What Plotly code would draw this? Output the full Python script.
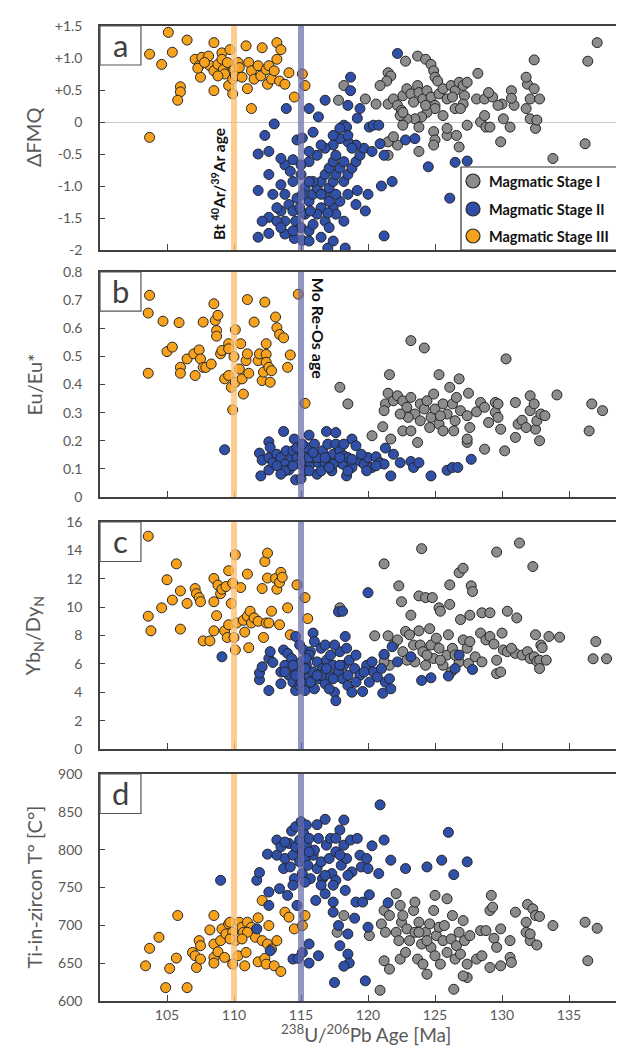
import plotly.graph_objects as go
from plotly.subplots import make_subplots

# ---------------- DATA ----------------
# Panel a : ΔFMQ
a_s1_age = [137.1,136.4,132.4,128.2,122.8,123.7,124.3,124.7,124.9,125.0,125.2,121.5,121.7,121.4,120.9,118.2,117.8,119.8,120.6,
            121.5,121.9,122.2,122.5,122.6,122.9,123.2,123.4,123.7,123.8,124.1,124.4,124.7,125.0,125.3,125.6,125.9,126.2,126.5,126.8,
            127.1,127.4,127.2,127.1,126.5,125.6,125.0,124.4,124.0,123.5,122.9,122.4,122.6,123.8,124.9,125.0,125.9,126.6,127.4,128.4,
            128.8,129.1,128.1,128.7,129.3,130.0,130.7,130.9,131.8,132.1,132.5,132.6,132.1,131.9,132.4,132.8,131.8,130.7,129.0,129.9,
            126.8,123.8,122.2,121.5,121.9,121.5,124.9,125.9,133.8,136.2,130.6,129.7,128.7,130.1,122.6,124.3,126.3,126.9]
a_s1_val = [1.24,0.95,0.97,0.76,0.95,1.03,0.98,0.90,0.80,0.70,0.64,0.77,0.72,0.64,0.57,0.57,0.34,0.36,0.28,
            0.28,0.36,0.26,0.18,0.41,0.52,0.44,0.31,0.57,0.46,0.36,0.49,0.39,0.26,0.44,0.52,0.36,0.57,0.49,0.62,
            0.57,0.62,0.41,0.28,0.21,0.10,0.21,0.15,0.08,0.05,0.05,0.10,-0.05,-0.08,-0.15,-0.28,-0.21,-0.21,-0.05,0.00,
            -0.08,-0.08,0.36,0.36,0.39,0.28,0.49,0.26,0.21,0.05,-0.10,0.03,0.36,0.59,0.52,0.36,0.70,0.37,0.46,-0.31,
            -0.39,-0.46,-0.36,-0.31,-0.23,-0.52,-0.36,-0.10,-0.57,-0.34,-0.08,0.26,0.10,0.05,0.15,0.26,0.39,0.21]

a_s2_age = [122.2,118.7,118.7,116.8,118.5,119.4,113.9,115.6,116.3,119.2,113.0,118.2,118.4,120.1,120.4,120.8,112.3,115.9,114.7,115.1,
            122.8,111.8,112.6,113.8,114.4,113.5,112.6,111.8,113.5,114.2,124.5,126.5,127.4,126.1,121.8,121.0,120.0,119.8,119.2,119.1,
            121.2,118.3,117.0,115.1,114.5,111.8,112.6,112.6,113.5,113.8,
            114.6,115.3,115.0,115.6,115.9,116.5,116.8,117.1,117.4,117.6,117.9,118.2,115.6,115.9,116.2,116.5,116.8,117.1,117.4,117.6,
            116.2,116.8,117.4,117.9,118.5,118.2,118.5,118.8,119.1,119.4,119.7,119.1,118.5,117.9,117.4,116.8,116.2,115.6,115.0,115.3,
            114.7,114.1,114.4,113.2,112.9,113.8,114.4,115.0,115.6,116.5,117.4,117.9,118.5,118.8,117.6,118.2,117.1,116.5,115.6,115.1,
            114.9,120.3,121.2,120.9,123.5,117.4,113.8,113.2,112.1,115.9,117.1,117.6,116.5,115.6,115.1,115.7,117.0,113.5,114.4]
a_s2_val = [1.07,0.70,0.49,0.34,0.26,0.21,0.21,0.21,0.08,0.06,-0.03,-0.05,-0.08,-0.08,-0.05,-0.05,-0.21,-0.16,-0.28,-0.25,
            -0.28,-0.50,-0.46,-0.67,-0.59,-0.57,-0.82,-1.07,-0.98,-0.77,-0.70,-0.63,-0.61,-1.19,-0.93,-1.00,-1.13,-1.39,-1.07,-1.29,
            -1.78,-1.97,-1.97,-1.85,-1.82,-1.80,-1.74,-1.49,-1.39,-1.55,
            -1.55,-1.44,-1.65,-1.70,-1.60,-1.34,-1.13,-1.03,-0.93,-0.82,-0.72,-0.62,-1.24,-1.13,-1.03,-0.93,-0.82,-0.72,-0.62,-0.52,
            -1.44,-1.55,-1.34,-1.24,-1.13,-0.93,-0.82,-0.72,-0.62,-0.52,-0.41,-0.36,-0.31,-0.26,-0.36,-0.41,-0.52,-0.62,-0.82,-1.03,
            -1.19,-1.29,-1.39,-1.34,-1.13,-1.13,-0.93,-0.67,-0.46,-0.36,-0.21,-0.10,-0.21,-0.41,-1.44,-1.55,-1.65,-1.80,-1.86,-1.42,
            -1.34,-0.46,-0.52,-0.34,-0.26,-1.86,-1.75,-1.55,-1.55,-0.93,-1.24,-1.13,-1.13,-0.93,-1.13,-1.39,-1.42,-1.65,-1.70]

a_s3_age = [103.7,104.6,105.1,105.4,106.0,106.0,105.8,106.5,107.1,107.4,107.5,107.6,108.1,108.2,108.5,108.5,108.5,108.8,109.1,109.1,
            109.2,109.3,109.6,109.7,109.9,109.9,110.0,110.1,110.3,110.4,110.6,110.9,111.0,111.1,111.3,111.5,111.8,112.0,112.1,112.4,
            112.5,112.6,112.8,113.0,113.2,113.2,113.5,113.4,113.8,114.1,114.5,115.1,115.3,111.3,103.7,107.3,107.8,108.8,109.5,109.7]
a_s3_val = [1.06,0.90,1.40,1.09,0.55,0.47,0.34,1.28,0.98,0.88,0.70,1.01,1.03,0.88,1.24,0.80,0.49,0.90,1.08,0.98,
            0.82,0.75,0.57,0.90,0.67,0.44,0.82,0.72,0.93,0.85,0.70,1.19,0.52,0.93,0.80,0.67,0.88,0.72,1.16,0.82,
            0.59,0.88,0.67,0.80,1.24,0.98,1.13,0.64,0.59,0.77,0.39,0.75,0.57,0.21,-0.24,0.84,0.93,0.72,0.93,1.13]

# Panel b : Eu/Eu*
b_s1_age = [123.2,124.2,130.3,121.6,125.3,126.8,134.1,117.9,118.5,121.5,121.3,121.2,121.9,122.2,122.6,122.9,123.2,123.5,123.9,124.2,
            124.4,124.7,124.9,125.0,125.3,125.6,125.9,126.1,126.3,126.5,126.6,126.9,127.4,127.5,127.6,127.4,127.4,128.1,128.4,128.7,
            129.0,129.5,129.5,129.7,129.9,130.2,131.0,131.0,131.2,131.5,132.1,132.1,132.4,132.5,132.8,132.6,132.9,133.2,136.5,136.7,
            137.5,120.3,121.1,121.7,122.6,123.7,124.6,125.6,125.4,126.4,123.9,123.0,122.4,128.7,129.7,131.8,123.2]
b_s1_val = [0.556,0.530,0.491,0.435,0.435,0.420,0.363,0.390,0.331,0.369,0.331,0.307,0.342,0.360,0.342,0.319,0.354,0.295,0.331,0.313,
            0.342,0.283,0.366,0.313,0.259,0.331,0.295,0.390,0.331,0.271,0.354,0.307,0.289,0.369,0.247,0.194,0.206,0.303,0.336,0.170,
            0.265,0.336,0.301,0.283,0.241,0.164,0.212,0.336,0.259,0.273,0.360,0.307,0.331,0.241,0.200,0.271,0.295,0.289,0.235,0.331,
            0.307,0.218,0.250,0.206,0.235,0.194,0.247,0.235,0.289,0.235,0.271,0.283,0.295,0.319,0.331,0.247,0.235]

b_s2_age = [109.3,111.9,112.0,112.1,112.6,112.6,112.6,112.7,112.9,113.2,113.5,113.7,113.8,113.9,114.1,114.3,114.4,114.5,114.6,114.7,
            114.9,115.0,115.1,115.3,115.4,115.6,115.7,115.9,116.0,116.2,116.3,116.5,116.6,116.8,116.9,117.0,117.1,117.3,117.4,117.6,
            117.6,117.8,117.9,118.1,118.2,118.4,118.5,118.8,118.8,119.1,119.4,119.7,120.0,120.3,120.6,120.9,121.2,121.3,121.7,121.9,
            122.4,123.2,123.4,123.8,124.7,125.9,126.3,126.7,127.7,
            115.3,115.6,116.2,116.8,117.4,117.9,113.8,113.2,114.7,115.6,116.5,117.1,118.8,119.5,119.9,120.6,115.1,115.9,118.2,118.5,
            114.4,113.5]
b_s2_val = [0.168,0.156,0.075,0.131,0.196,0.140,0.096,0.176,0.122,0.152,0.140,0.233,0.117,0.164,0.096,0.140,0.164,0.206,0.061,0.140,
            0.117,0.065,0.152,0.128,0.176,0.220,0.117,0.140,0.188,0.081,0.122,0.152,0.164,0.117,0.233,0.188,0.140,0.093,0.152,0.229,
            0.188,0.128,0.164,0.117,0.146,0.075,0.140,0.206,0.105,0.182,0.128,0.117,0.140,0.105,0.143,0.122,0.117,0.174,0.075,0.152,
            0.122,0.126,0.105,0.122,0.075,0.095,0.105,0.105,0.134,
            0.093,0.140,0.140,0.140,0.117,0.140,0.093,0.111,0.176,0.093,0.093,0.105,0.134,0.152,0.093,0.111,0.188,0.158,0.188,0.093,
            0.111,0.081]

b_s3_age = [103.7,103.6,103.6,104.7,105.0,105.4,105.9,106.0,106.0,106.5,107.0,107.1,107.4,107.5,107.7,107.7,107.9,108.3,108.5,108.6,
            108.7,108.7,108.8,109.0,109.1,109.3,109.6,109.6,109.6,109.8,109.9,110.0,110.1,110.1,110.4,110.5,110.6,110.7,110.9,111.0,
            111.0,111.1,111.5,111.8,111.9,112.1,112.2,112.3,112.4,112.4,112.4,112.6,112.7,112.8,113.1,113.2,113.4,113.7,114.0,114.2,
            114.8,115.3]
b_s3_val = [0.717,0.654,0.440,0.625,0.517,0.533,0.620,0.461,0.440,0.491,0.509,0.432,0.523,0.491,0.622,0.461,0.461,0.473,0.687,0.628,
            0.592,0.572,0.646,0.509,0.521,0.420,0.545,0.432,0.527,0.390,0.310,0.499,0.595,0.408,0.455,0.545,0.420,0.366,0.485,0.509,
            0.702,0.440,0.622,0.485,0.509,0.414,0.444,0.693,0.545,0.507,0.479,0.461,0.408,0.449,0.640,0.602,0.578,0.566,0.461,0.505,
            0.721,0.333]

# Panel c : YbN/DyN
c_s1_age = [124.0,129.6,131.3,132.3,121.2,122.3,122.5,123.8,124.3,124.8,125.3,125.4,126.1,126.1,126.8,127.1,127.7,127.8,126.9,127.6,
            128.5,129.1,130.4,131.1,123.2,117.9,120.5,121.5,121.2,121.6,121.9,122.2,122.6,122.8,123.1,123.4,123.5,123.8,123.9,124.1,
            124.3,124.6,124.7,124.9,125.1,125.3,125.6,125.9,126.0,126.2,126.3,126.8,127.1,127.4,127.5,127.6,128.4,128.8,129.1,129.4,
            129.6,129.6,129.9,130.0,130.1,130.4,131.0,131.5,131.9,132.1,132.4,132.5,132.6,132.8,132.9,133.0,133.3,132.8,133.5,134.3,
            136.8,137.0,137.8,120.0,121.2,122.9,124.4,125.4,128.0,128.5,130.7,126.5]
c_s1_val = [14.12,13.88,14.52,12.86,13.05,11.50,10.38,10.79,10.67,10.67,9.95,9.71,11.57,10.19,12.43,12.74,11.50,11.10,9.12,9.43,
            9.60,9.60,9.71,9.24,9.43,9.95,7.98,7.98,6.62,5.90,7.33,7.69,6.86,8.29,8.05,7.33,6.14,8.33,7.33,6.86,
            5.90,8.48,7.33,6.38,7.81,7.10,5.90,6.62,8.05,5.43,7.10,6.14,7.69,7.10,6.02,7.57,8.17,7.69,7.93,7.40,
            6.26,5.31,5.43,8.17,6.98,6.86,6.74,6.62,6.86,6.38,6.50,8.05,6.19,6.26,7.33,7.14,6.26,5.67,7.93,7.88,
            6.36,7.57,6.36,5.90,6.14,6.26,6.62,6.26,6.50,6.14,7.10,6.62]

c_s2_age = [109.1,111.9,111.9,112.1,112.6,112.6,112.7,112.9,113.5,113.5,113.7,113.8,114.0,114.1,114.3,114.4,114.6,114.6,114.7,114.9,
            114.9,115.0,115.1,115.2,115.3,115.4,115.6,115.7,115.9,115.9,116.0,116.2,116.3,116.5,116.6,116.8,116.9,117.1,117.2,117.4,
            117.5,117.6,117.8,117.8,117.9,118.1,118.2,118.3,118.4,118.5,118.6,118.8,119.0,119.1,119.4,119.6,119.9,120.0,120.1,120.4,
            120.7,121.1,121.2,121.3,121.6,121.7,121.8,122.2,123.2,124.0,124.7,126.0,126.5,126.8,127.8,118.1,
            113.8,114.4,115.3,115.7,116.5,116.9,117.4,117.9,115.6,116.2,115.0,117.1,118.5,119.1,119.7,121.0,120.3,114.6,115.4,116.0,
            116.8,117.5]
c_s2_val = [6.50,4.88,5.36,5.79,4.12,6.38,6.86,6.10,5.43,4.60,6.98,5.90,6.74,5.19,6.38,4.71,4.12,7.93,5.67,7.33,
            4.48,6.14,5.19,6.98,4.12,5.90,5.07,6.86,8.17,5.43,4.24,6.14,4.95,7.10,5.67,4.60,6.26,5.19,6.62,5.90,
            4.00,3.40,9.67,5.43,6.86,4.95,5.90,7.93,7.10,4.48,6.26,4.00,5.67,6.62,5.19,4.05,5.90,11.02,4.71,5.43,
            5.07,3.93,6.67,4.71,4.95,4.24,7.21,6.14,6.50,4.83,5.02,5.14,5.67,6.62,5.60,9.71,
            5.43,5.90,5.67,4.71,5.19,5.67,4.95,5.90,6.62,5.19,4.71,4.24,5.19,4.71,5.43,5.67,6.14,5.19,6.38,7.57,
            7.33,7.33]

c_s3_age = [103.6,103.6,103.8,104.6,105.0,105.4,105.7,106.0,106.0,106.5,107.1,107.2,107.4,107.5,107.7,108.2,108.5,108.5,108.5,108.7,
            108.8,109.0,109.1,109.3,109.4,109.5,109.6,109.6,109.8,109.9,110.0,110.1,110.1,110.2,110.5,110.7,110.8,111.0,111.0,111.1,
            111.2,111.3,111.5,111.8,112.1,112.2,112.3,112.4,112.5,112.5,112.6,112.8,113.1,113.2,113.4,113.5,114.0,114.2,114.7,115.3,
            115.5,113.4,113.6]
c_s3_val = [15.0,9.36,8.33,9.95,11.93,10.5,13.05,11.14,8.45,10.26,11.31,10.95,10.67,10.38,7.62,7.62,12.02,10.38,8.33,9.40,
            11.55,10.95,11.26,8.33,11.45,7.86,8.76,12.57,10.26,11.69,7.86,13.69,6.98,8.88,11.38,9.07,8.24,9.36,12.33,7.14,
            9.71,8.88,9.24,9.00,11.31,7.86,13.21,8.88,13.81,12.05,8.88,9.71,12.02,11.26,8.76,12.45,9.95,8.05,11.57,10.67,
            9.19,11.74,12.1]

# Panel d : Ti-in-zircon T
d_s1_age = [120.9,121.6,121.2,121.0,121.2,121.6,122.1,122.1,122.3,122.4,122.4,122.5,122.6,122.8,122.9,123.1,123.4,123.5,123.5,123.7,
            123.8,124.0,124.1,124.3,124.4,124.6,124.7,124.9,125.0,125.0,125.1,125.3,125.4,125.6,125.7,125.9,126.2,126.3,126.4,126.5,
            126.6,126.8,126.9,127.1,127.2,127.4,127.4,127.6,128.1,128.4,128.5,128.8,129.1,129.2,129.3,129.4,129.6,129.1,129.9,129.9,
            130.6,130.6,130.7,131.0,131.8,131.8,131.9,132.1,132.1,132.3,132.5,132.6,132.8,133.8,136.2,136.4,137.1,118.2,117.7,120.1,
            121.3,124.4,125.9,123.8,127.1]
d_s1_val = [614.2,642.1,653.2,701.9,719.6,713.0,741.8,690.8,679.8,726.3,655.4,704.1,713.0,664.2,695.3,679.8,719.6,730.7,690.8,655.4,
            704.1,675.3,648.7,690.8,635.4,701.9,670.9,719.6,739.6,659.8,686.4,697.5,648.7,679.8,699.7,735.1,682.0,713.0,615.5,655.4,
            673.1,690.8,662.0,706.3,679.8,648.7,631.0,686.4,655.4,693.0,659.8,693.0,719.6,739.6,724.0,682.9,670.9,644.3,646.5,695.3,
            679.8,657.6,651.0,717.4,704.1,690.8,727.6,679.8,688.6,721.8,713.0,674.0,711.7,699.7,704.1,653.2,696.1,713.0,690.8,686.4,
            690.8,679.8,664.2,690.8,633.2]

d_s2_age = [109.0,111.7,111.7,111.9,112.5,112.6,112.6,112.7,113.2,113.2,113.4,113.5,113.7,113.8,114.0,114.1,114.2,114.3,114.4,114.4,
            114.5,114.6,114.6,114.7,114.8,114.9,114.9,115.0,115.1,115.1,115.2,115.3,115.4,115.4,115.5,115.6,115.6,115.6,115.7,115.9,
            116.0,116.1,116.2,116.3,116.3,116.5,116.6,116.8,116.8,116.9,117.1,117.2,117.3,117.4,117.4,117.5,117.6,117.6,117.8,117.9,
            117.9,118.0,118.2,118.2,118.3,118.4,118.5,118.5,118.6,118.7,118.8,119.0,119.1,119.2,119.4,119.5,119.6,119.8,119.9,120.0,
            120.0,120.1,120.3,120.8,120.9,121.2,121.5,121.7,122.8,124.4,125.5,126.0,126.4,127.4,
            113.8,115.6,116.8,117.6,118.5,114.4,116.5,117.9,115.3,116.2,117.4,115.1,118.2]
d_s2_val = [759.5,695.3,759.5,769.7,794.1,744.0,726.3,666.5,812.7,792.7,748.4,803.8,775.0,788.3,739.6,808.2,777.2,824.6,655.4,792.7,
            761.7,830.4,803.8,726.3,656.3,783.9,812.7,837.0,797.2,768.4,821.5,788.3,806.0,832.6,779.4,675.3,650.1,814.9,761.7,792.7,
            799.4,732.9,775.0,659.8,814.9,783.9,761.7,741.8,840.1,806.0,788.3,814.9,768.4,730.7,717.4,624.4,797.2,759.5,699.7,673.1,
            826.0,779.4,839.2,806.0,746.2,788.3,688.6,662.0,650.1,812.7,770.6,709.4,730.7,814.9,792.7,777.2,730.7,626.6,788.3,697.5,
            775.0,740.4,805.1,768.4,859.2,812.7,729.8,786.1,775.0,777.2,786.1,822.9,767.0,783.9,
            810.0,797.0,766.0,815.0,766.0,753.0,753.0,793.0,757.0,833.0,753.0,664.0,646.0]

d_s3_age = [103.4,103.7,104.4,104.9,105.2,105.7,105.8,106.5,106.9,107.1,107.2,107.4,107.5,107.5,108.2,108.5,108.5,108.5,108.5,108.8,
            109.0,109.1,109.3,109.4,109.6,109.7,109.9,109.9,110.1,110.3,110.4,110.6,110.7,110.8,110.9,111.0,111.2,111.3,111.5,111.6,
            111.8,111.8,112.1,112.1,112.3,112.4,112.5,112.6,112.8,113.0,113.2,113.5,113.8,114.1,114.5,115.1,115.3,111.0,110.6,109.7]
d_s3_val = [646.5,669.6,684.2,617.7,643.0,656.7,713.0,617.7,664.2,659.8,644.3,679.8,673.1,655.4,693.9,713.0,675.3,657.6,650.1,665.1,
            679.8,695.3,657.6,688.6,701.9,704.1,648.7,690.8,679.8,659.8,704.1,697.5,690.8,646.5,664.2,704.1,693.0,697.5,690.8,684.2,
            651.8,709.9,732.9,679.8,656.3,648.7,675.3,699.7,668.7,646.5,679.8,639.0,717.4,710.8,695.3,699.7,713.0,690.8,682.0,682.0]

# Reference ages (vertical bands) and tick labels
BT_AGE = 110
MO_AGE = 115
X_TICKS = [105, 110, 115, 120, 125, 130, 135]
A_TICKS = [-2, -1.5, -1.0, -0.5, 0, 0.5, 1.0, 1.5]
A_LABELS = ["-2", "-1.5", "-1.0", "-0.5", "0", "+0.5", "+1.0", "+1.5"]
B_TICKS = [0, 0.1, 0.2, 0.3, 0.4, 0.5, 0.6, 0.7, 0.8]
C_TICKS = [0, 2, 4, 6, 8, 10, 12, 14, 16]
D_TICKS = [600, 650, 700, 750, 800, 850, 900]
SERIES = ["Magmatic Stage I", "Magmatic Stage II", "Magmatic Stage III"]
PANELS = ["a", "b", "c", "d"]
Y_TITLES = ["ΔFMQ", "Eu/Eu*", "Yb<sub>N</sub>/Dy<sub>N</sub>", "Ti-in-zircon T° [C°]"]

# ---------------- STYLE ----------------
COLORS = ["#8c8c8c", "#2f4fa8", "#f6a21d"]
EDGE = "#262626"
AXIS = "#404040"
TXT = "#595959"
FONT = "Lato, 'Open Sans', sans-serif"
MSIZE = 10

W, H = 624, 1048
ML, MR, MT, MB = 92, 0, 18, 55
PW, PH = W - ML - MR, H - MT - MB


def px_x(px):
    return (px - ML) / PW


def px_y(py):
    return (H - MB - py) / PH


panels = [
    [(a_s1_age, a_s1_val), (a_s3_age, a_s3_val), (a_s2_age, a_s2_val)],
    [(b_s1_age, b_s1_val), (b_s3_age, b_s3_val), (b_s2_age, b_s2_val)],
    [(c_s1_age, c_s1_val), (c_s3_age, c_s3_val), (c_s2_age, c_s2_val)],
    [(d_s1_age, d_s1_val), (d_s3_age, d_s3_val), (d_s2_age, d_s2_val)],
]
order_colors = [COLORS[0], COLORS[2], COLORS[1]]

fig = make_subplots(rows=4, cols=1, shared_xaxes=True)

for r, series in enumerate(panels, start=1):
    for (xs, ys), col in zip(series, order_colors):
        fig.add_trace(go.Scatter(x=xs, y=ys, mode="markers", showlegend=False, hoverinfo="skip",
                                 marker=dict(size=MSIZE, color=col, line=dict(color=EDGE, width=1))),
                      row=r, col=1)

panel_px = [(18, 242), (264, 489), (514, 741), (766, 993)]
domains = [[px_y(b), px_y(t)] for t, b in panel_px]
yranges = [[-2, 1.5], [0, 0.8], [0, 16], [600, 900]]
yticks = [(A_TICKS, A_LABELS), (B_TICKS, [f"{v:g}" for v in B_TICKS]),
          (C_TICKS, [str(v) for v in C_TICKS]), (D_TICKS, [str(v) for v in D_TICKS])]

for i in range(4):
    ax = "yaxis" if i == 0 else f"yaxis{i+1}"
    xa = "xaxis" if i == 0 else f"xaxis{i+1}"
    fig.update_layout(**{
        ax: dict(domain=domains[i], range=yranges[i], tickvals=yticks[i][0], ticktext=yticks[i][1],
                 showgrid=False, zeroline=(i == 0), zerolinecolor="#c8c8c8", zerolinewidth=1,
                 showline=True, linecolor=AXIS, linewidth=1.5, mirror=False,
                 ticks="inside", ticklen=5, tickcolor=AXIS, ticklabelstandoff=13,
                 tickfont=dict(family=FONT, size=14, color=TXT)),
        xa: dict(range=[100, 139.7], tickvals=X_TICKS, showgrid=False, zeroline=False,
                 showline=True, linecolor=AXIS, linewidth=1.5, mirror=True,
                 ticks="inside", ticklen=6, tickcolor=AXIS, ticklabelstandoff=0,
                 showticklabels=(i == 3),
                 tickfont=dict(family=FONT, size=14, color=TXT)),
    })

shapes = []
annotations = []
for i in range(4):
    xr = "x" if i == 0 else f"x{i+1}"
    yr = "y" if i == 0 else f"y{i+1}"
    shapes.append(dict(type="line", xref=xr, yref=f"{yr} domain", x0=BT_AGE, x1=BT_AGE, y0=0, y1=1,
                       line=dict(color="rgba(252,192,115,0.78)", width=6), layer="above"))
    shapes.append(dict(type="line", xref=xr, yref=f"{yr} domain", x0=MO_AGE, x1=MO_AGE, y0=0, y1=1,
                       line=dict(color="rgba(105,108,170,0.72)", width=6), layer="above"))
    shapes.append(dict(type="rect", xref=f"{xr} domain", yref=f"{yr} domain", x0=0, x1=0.077, y0=0.826, y1=1,
                       fillcolor="white", line=dict(color="#555555", width=1.2), layer="above"))
    annotations.append(dict(text=PANELS[i], xref=f"{xr} domain", yref=f"{yr} domain", x=0.0385, y=0.915,
                            showarrow=False, font=dict(family=FONT, size=31, color="#404040"),
                            xanchor="center", yanchor="middle"))
    annotations.append(dict(text=Y_TITLES[i], xref="paper", yref="paper", x=px_x(25),
                            y=(domains[i][0] + domains[i][1]) / 2, textangle=-90, showarrow=False,
                            font=dict(family=FONT, size=20, color=TXT), xanchor="center", yanchor="middle"))

annotations.append(dict(text="<b>Bt <sup>40</sup>Ar/<sup>39</sup>Ar age</b>", xref="x", yref="y", x=108.8, y=-0.97,
                        textangle=-90, showarrow=False, font=dict(family=FONT, size=15.5, color="#111111")))
annotations.append(dict(text="<b>Mo Re-Os age</b>", xref="x2", yref="y2", x=116.3, y=0.60,
                        textangle=90, showarrow=False, font=dict(family=FONT, size=16, color="#111111")))
annotations.append(dict(text="<sup>238</sup>U/<sup>206</sup>Pb Age [Ma]", xref="paper", yref="paper", x=0.5,
                        y=px_y(1040), showarrow=False, font=dict(family=FONT, size=19, color=TXT),
                        xanchor="center", yanchor="bottom"))

# Legend box drawn in panel a (right part is cut by the picture edge, as in the reference)
shapes.append(dict(type="rect", xref="paper", yref="paper", x0=px_x(453), x1=px_x(640), y0=px_y(242), y1=px_y(159),
                   fillcolor="white", line=dict(color="#333333", width=1.2), layer="above"))
for name, col, py in zip(SERIES, COLORS, [173, 201, 228]):
    shapes.append(dict(type="circle", xref="paper", yref="paper", xsizemode="pixel", ysizemode="pixel",
                       xanchor=px_x(465), yanchor=px_y(py), x0=-7, x1=7, y0=-7, y1=7,
                       fillcolor=col, line=dict(color=EDGE, width=1.2), layer="above"))
    annotations.append(dict(text="<b>" + name + "</b>", xref="paper", yref="paper", x=px_x(479), y=px_y(py),
                            xanchor="left", yanchor="middle", showarrow=False,
                            font=dict(family=FONT, size=14.5, color="#111111")))

fig.update_layout(
    width=W, height=H,
    margin=dict(l=ML, r=MR, t=MT, b=MB, autoexpand=False),
    plot_bgcolor="white", paper_bgcolor="white",
    shapes=shapes, annotations=annotations, showlegend=False,
)

fig.write_html("out.html")
